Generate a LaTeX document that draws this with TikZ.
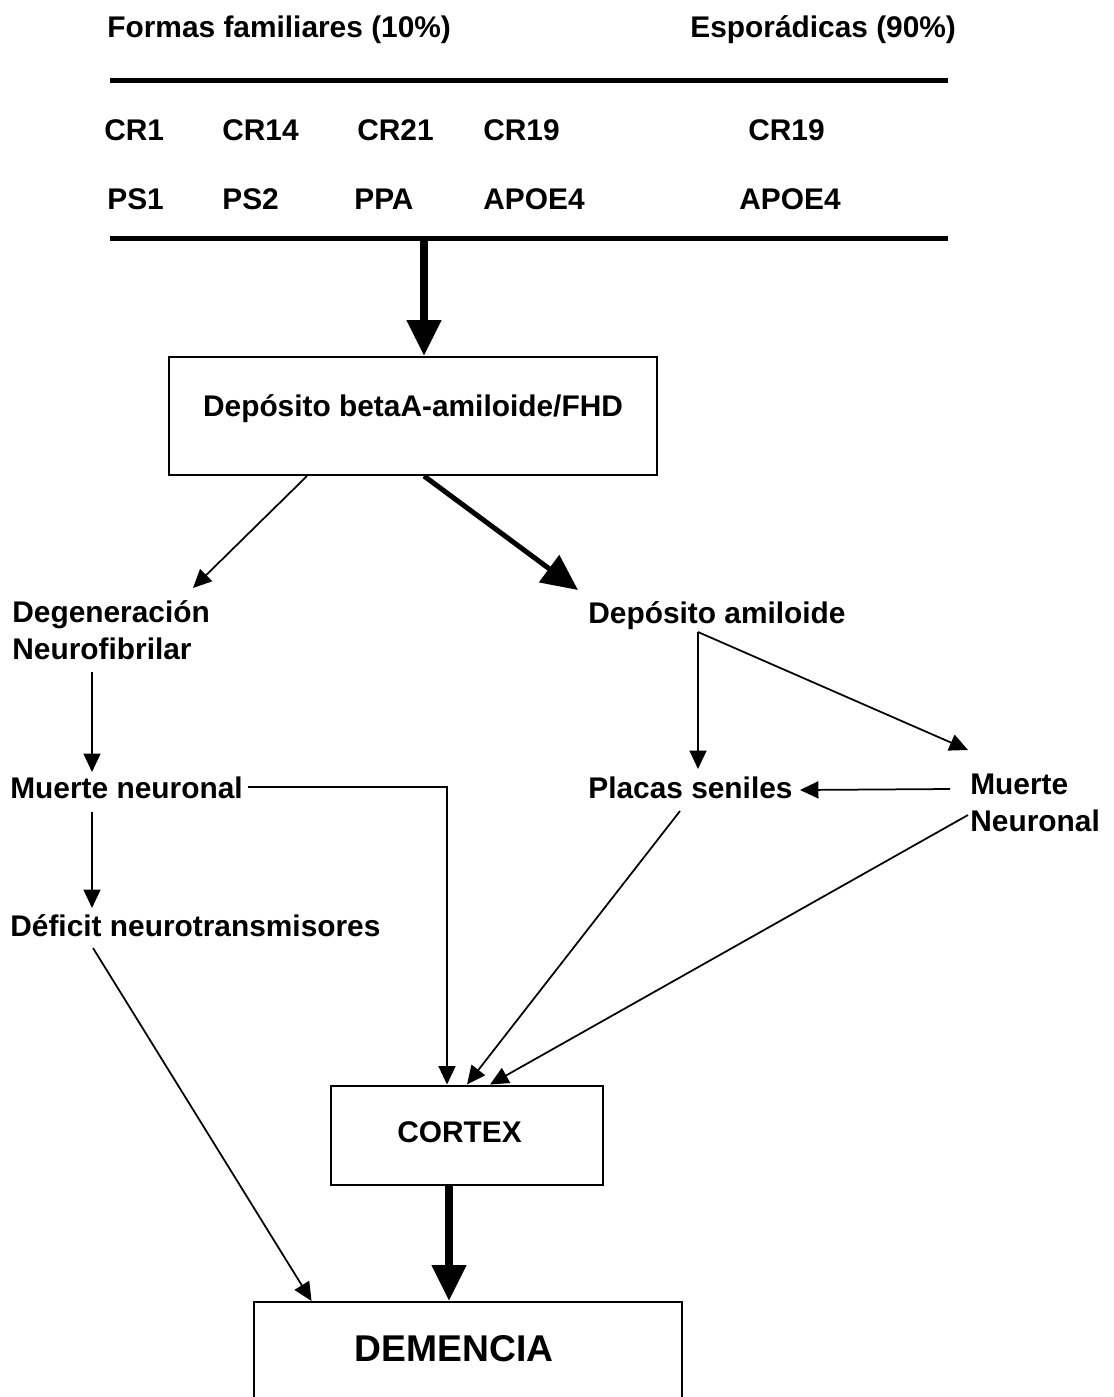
\documentclass[tikz,border=0pt]{standalone}
\usepackage{fontspec}
\setmainfont{Liberation Sans}
\usetikzlibrary{arrows.meta, calc}

\begin{document}
\begin{tikzpicture}[
  x=0.02cm, y=-0.02cm,
  lbl/.style={anchor=base west, inner sep=0pt, align=left,
    font=\fontsize{17}{20.5}\selectfont\bfseries},
  box/.style={rectangle, draw, line width=0.04cm, inner sep=0pt,
    font=\fontsize{17}{20.5}\selectfont\bfseries},
  bar/.style={line width=0.1cm},
  thin arrow/.style={-{Triangle[length=0.37cm, width=0.34cm]}, line width=0.035cm},
  thick arrow/.style={-{Triangle[length=0.72cm, width=0.66cm]}, line width=0.15cm}
]
\useasboundingbox (0,0) rectangle (1113,1397);

% Header
\node[lbl] (fam)  at (107,37) {Formas familiares (10\%)};
\node[lbl] (spor) at (690,37) {Esporádicas (90\%)};
\coordinate (barA) at (110,80);
\coordinate (barB) at (110,238);
\draw[bar] (barA) -- ++(838,0);
\draw[bar] (barB) -- ++(838,0);

% Genes
\node[lbl] (cr1)  at (104,140) {CR1};
\node[lbl] (cr14) at (222,140) {CR14};
\node[lbl] (cr21) at (357,140) {CR21};
\node[lbl] (cr19) at (483,140) {CR19};
\node[lbl] (cr19s) at (748,140) {CR19};
\node[lbl] (ps1)  at (107,209) {PS1};
\node[lbl] (ps2)  at (222,209) {PS2};
\node[lbl] (ppa)  at (354,209) {PPA};
\node[lbl] (apo)  at (483,209) {APOE4};
\node[lbl] (apos) at (739,209) {APOE4};

% Nodes
\node[box, minimum width=9.76cm, minimum height=2.36cm,
  text height=0.3cm, text depth=0.3cm] (beta) at (413,416) {Depósito betaA-amiloide/FHD};
\node[lbl] (degen)   at (12,659) {Degeneración\\Neurofibrilar};
\node[lbl] (amil)    at (588,623) {Depósito amiloide};
\node[lbl] (muerteA) at (10,798) {Muerte neuronal};
\node[lbl] (deficit) at (10,936) {Déficit neurotransmisores};
\node[lbl] (placas)  at (588,798) {Placas seniles};
\node[lbl] (muerteB) at (970,831) {Muerte\\Neuronal};
\node[box, minimum width=5.46cm, minimum height=1.98cm,
  text height=0.5cm, text depth=0.2cm] (cortex) at (467,1135) {CORTEX\kern0.3cm};
\node[box, minimum width=8.58cm, minimum height=2.36cm,
  text height=0.4cm, text depth=0.4cm, font=\fontsize{21.2}{25}\selectfont\bfseries]
  (dem) at (468,1361) {DEMENCIA\kern0.56cm};
\coordinate (split) at (698,632);
\coordinate (barmid) at ($(barB)+(314,0)$);
\coordinate (cortexout) at ($(cortex.south)+(-18,0)$);

% Arrows
\draw[thick arrow] (barmid) -- (barmid |- beta.north);
\draw[thin arrow] ($(beta.south)+(-106,0)$) -- ($(degen.base west)+(181,-71)$);
\draw[thick arrow, line width=0.1cm] ($(beta.south)+(11,0)$) -- ($(amil.base west)+(-10,-33)$);
\draw[thin arrow] ($(muerteA.base west)+(82,-126)$) -- ($(muerteA.base west)+(82,-26)$);
\draw[thin arrow] ($(muerteA.base west)+(82,14)$) -- ($(deficit.base west)+(82,-28)$);
\draw[thin arrow] ($(muerteA.east)+(5,0)$) -| ($(cortex.north)+(-20,0)$);
\draw[thin arrow] ($(deficit.base west)+(83,12)$) -- ($(dem.north west)+(59,0)$);
\draw[thin arrow] (split) -- ($(placas.base west)+(110,-29)$);
\draw[thin arrow] (split) -- ($(muerteB.base west)+(-2,-81)$);
\draw[thin arrow] ($(muerteB.base west)+(-20,-42)$) -- ($(placas.base east)+(7,-8)$);
\draw[thin arrow] ($(placas.base west)+(92,13)$) -- (cortex.north);
\draw[thin arrow] ($(muerteB.base west)+(-2,-16)$) -- ($(cortex.north)+(23,0)$);
\draw[thick arrow] (cortexout) -- (cortexout |- dem.north);

\end{tikzpicture}
\end{document}
